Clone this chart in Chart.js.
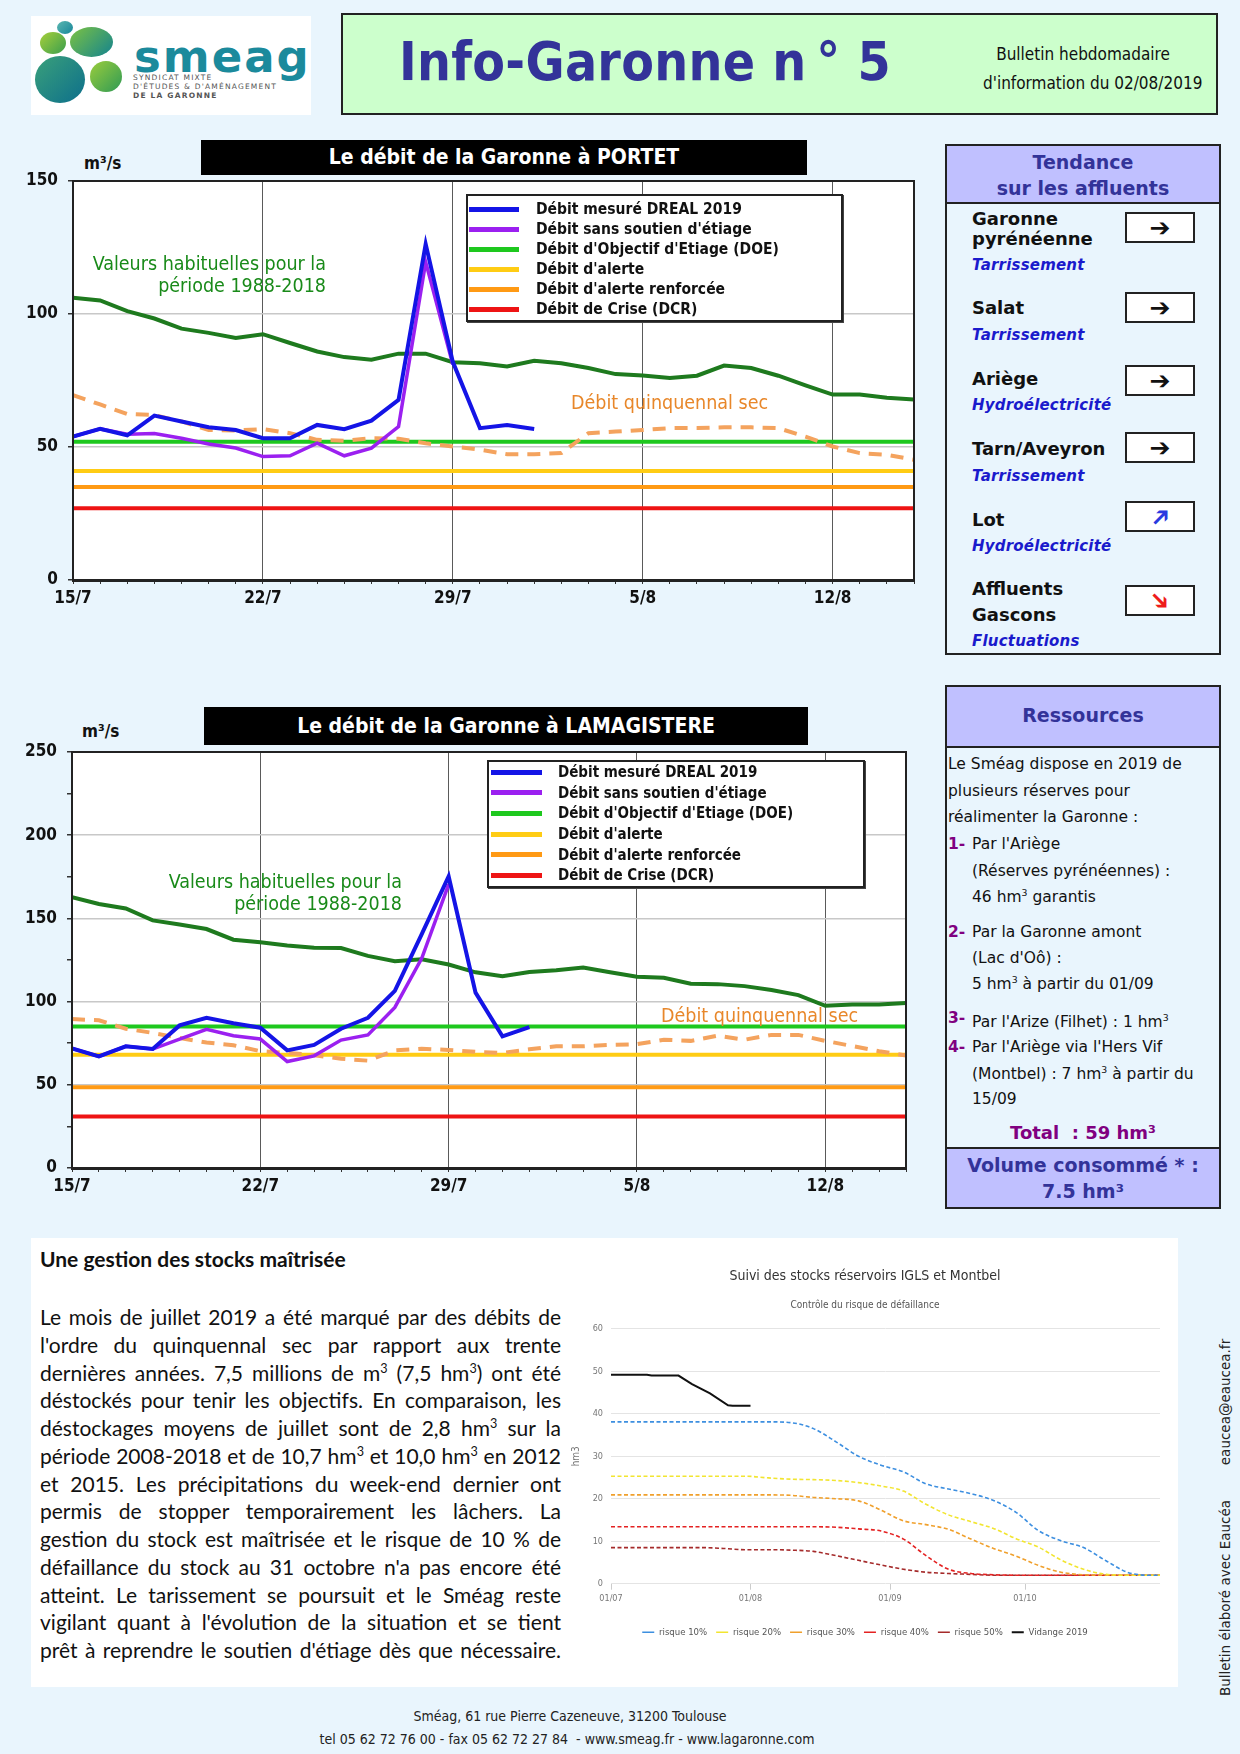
<!DOCTYPE html>
<html lang="fr">
<head>
<meta charset="utf-8">
<title>Info-Garonne n° 5</title>
<script src="https://cdn.jsdelivr.net/npm/chart.js@4.4.1/dist/chart.umd.min.js"></script>
<style>
  body { margin: 0; width: 1240px; height: 1754px; background: #e9f5fd; position: relative; overflow: hidden;
         font-family: 'DejaVu Sans', sans-serif; color: #111; }
  .a { position: absolute; white-space: nowrap; }
  .cond { font-family: 'DejaVu Sans Condensed', 'Liberation Sans Narrow', 'DejaVu Sans', sans-serif; }
  canvas { position: absolute; }

  /* header */
  #logo { left: 31px; top: 16px; width: 280px; height: 99px; background: #fff; }
  .pebble { position: absolute; border-radius: 50%; }
  #titleBox { left: 341px; top: 13px; width: 873px; height: 98px; background: #ccffcc; border: 2px solid #222; }

  /* chart headers */
  .blackTitle { position: absolute; background: #000; color: #fff; font-weight: bold; font-size: 21px; text-align: center; }
  .unit { font-weight: bold; font-size: 17px; }
  .habit { color: #198a19; font-size: 19.5px; text-align: right; line-height: 22px; }
  .quinq { color: #e8872a; font-size: 19.5px; }
  .legend { position: absolute; background: #fff; border: 2px solid #222; box-shadow: 1px 1px 0 #444; box-sizing: border-box; }
  .lg-row { display: flex; align-items: center; font-weight: bold; white-space: nowrap; }
  .lg-line { display: inline-block; height: 5px; }

  /* side panels */
  .panel { position: absolute; border: 2px solid #222; box-sizing: border-box; }
  .phead { background: #c0c0ff; color: #333399; font-weight: bold; text-align: center; }
  .trib { font-weight: bold; font-size: 18px; line-height: 24px; }
  .state { color: #1a1acc; font-weight: bold; font-style: italic; font-size: 15px; line-height: 22px; letter-spacing: 0.2px; }
  .arrow { position: absolute; left: 1125px; width: 70px; height: 31px; background: #fff; border: 2px solid #222;
           box-sizing: border-box; text-align: center; font-size: 25px; line-height: 27px; }
  .arrow span { display: inline-block; }
  .res { font-size: 15.5px; line-height: 26px; }
  .num { color: #800080; font-weight: bold; font-size: 15.5px; line-height: 26px; }
  .res sup, .body sup { font-size: 60%; line-height: 0; }

  /* bottom text */
  #whiteBox { left: 31px; top: 1238px; width: 1147px; height: 449px; background: #fff; }
  .body { position: absolute; left: 40px; width: 521px; font-family: Lato, 'DejaVu Sans', sans-serif; font-size: 21px;
          height: 27.75px; line-height: 27.75px; text-align: justify; text-align-last: justify; white-space: nowrap; }
  .foot { font-size: 14px; color: #222; }
  .vert { font-size: 13.5px; color: #222; transform: rotate(-90deg); transform-origin: center center; }
</style>
</head>
<body>

<!-- ===== header ===== -->
<div id="logo" class="a">
  <div class="pebble" style="left:26px;top:5px;width:16px;height:13px;background:linear-gradient(135deg,#5bb7b0,#17869a);"></div>
  <div class="pebble" style="left:9px;top:16px;width:26px;height:22px;background:linear-gradient(135deg,#a6cf3a,#3a9e4e);"></div>
  <div class="pebble" style="left:39px;top:11px;width:43px;height:30px;background:linear-gradient(135deg,#7cc242,#13838f);"></div>
  <div class="pebble" style="left:4px;top:40px;width:50px;height:47px;background:linear-gradient(135deg,#3aa07a,#0d6f8c);"></div>
  <div class="pebble" style="left:59px;top:45px;width:32px;height:31px;background:linear-gradient(135deg,#9bcd3c,#2f9a55);"></div>
  <div class="a" style="left:103px;top:14px;font-size:45px;font-weight:bold;color:#1b8a9c;letter-spacing:2px;">smeag</div>
  <div class="a" style="left:102px;top:57px;font-size:7.5px;color:#555;letter-spacing:1.2px;line-height:9px;">SYNDICAT MIXTE<br>D'ÉTUDES &amp; D'AMÉNAGEMENT<br><b>DE LA GARONNE</b></div>
</div>

<div id="titleBox" class="a">
  <div class="a cond" style="left:56px;top:16px;font-size:53px;font-weight:bold;color:#333399;letter-spacing:0.3px;">Info-Garonne n&thinsp;°&nbsp;5</div>
  <div class="a cond" style="left:640px;top:25px;width:200px;text-align:center;font-size:17px;line-height:29px;">Bulletin hebdomadaire<br>d'information du 02/08/2019</div>
</div>

<!-- ===== PORTET ===== -->
<div class="blackTitle cond" style="left:201px;top:140px;width:606px;height:35px;line-height:35px;">Le débit de la Garonne à PORTET</div>
<div class="a unit cond" style="left:84px;top:153px;">m³/s</div>
<canvas id="portet" width="940" height="500" style="left:0;top:130px;"></canvas>
<div class="a habit cond" style="left:40px;top:253px;width:286px;">Valeurs habituelles pour la<br>période 1988-2018</div>
<div class="a quinq cond" style="left:571px;top:391px;">Débit quinquennal sec</div>
<div id="lg1" class="legend cond" style="left:466px;top:194px;width:377px;height:128px;padding-top:3px;font-size:15.5px;"></div>

<!-- ===== LAMAGISTERE ===== -->
<div class="blackTitle cond" style="left:204px;top:707px;width:604px;height:38px;line-height:38px;">Le débit de la Garonne à LAMAGISTERE</div>
<div class="a unit cond" style="left:82px;top:721px;">m³/s</div>
<canvas id="lama" width="940" height="540" style="left:0;top:680px;"></canvas>
<div class="a habit cond" style="left:110px;top:871px;width:292px;">Valeurs habituelles pour la<br>période 1988-2018</div>
<div class="a quinq cond" style="left:661px;top:1004px;">Débit quinquennal sec</div>
<div id="lg2" class="legend cond" style="left:487px;top:760px;width:378px;height:128px;padding-top:0px;font-size:15px;"></div>

<!-- ===== Tendance ===== -->
<div class="panel" style="left:945px;top:144px;width:276px;height:511px;">
  <div class="phead" style="height:58px;border-bottom:2px solid #222;font-size:19px;line-height:26px;padding-top:3px;box-sizing:border-box;">Tendance<br>sur les affluents</div>
</div>
<div class="a trib" style="left:972px;top:207px;">Garonne</div>
<div class="a trib" style="left:972px;top:227px;">pyrénéenne</div>
<div class="a state" style="left:972px;top:254px;">Tarrissement</div>
<div class="arrow" style="top:212px;"><span>➔</span></div>

<div class="a trib" style="left:972px;top:296px;">Salat</div>
<div class="a state" style="left:972px;top:324px;">Tarrissement</div>
<div class="arrow" style="top:292px;"><span>➔</span></div>

<div class="a trib" style="left:972px;top:367px;">Ariège</div>
<div class="a state" style="left:972px;top:394px;">Hydroélectricité</div>
<div class="arrow" style="top:365px;"><span>➔</span></div>

<div class="a trib" style="left:972px;top:437px;">Tarn/Aveyron</div>
<div class="a state" style="left:972px;top:465px;">Tarrissement</div>
<div class="arrow" style="top:432px;"><span>➔</span></div>

<div class="a trib" style="left:972px;top:508px;">Lot</div>
<div class="a state" style="left:972px;top:535px;">Hydroélectricité</div>
<div class="arrow" style="top:501px;color:#2a3ae0;"><span style="transform:rotate(-45deg);">➔</span></div>

<div class="a trib" style="left:972px;top:577px;">Affluents</div>
<div class="a trib" style="left:972px;top:603px;">Gascons</div>
<div class="a state" style="left:972px;top:630px;">Fluctuations</div>
<div class="arrow" style="top:585px;color:#ee1c1c;"><span style="transform:rotate(45deg);">➔</span></div>

<!-- ===== Ressources ===== -->
<div class="panel" style="left:945px;top:685px;width:276px;height:524px;">
  <div class="phead" style="height:59px;border-bottom:2px solid #222;font-size:19px;line-height:57px;">Ressources</div>
  <div class="phead" style="position:absolute;left:0;right:0;bottom:0;height:60px;border-top:2px solid #222;font-size:19px;line-height:26px;padding-top:3px;box-sizing:border-box;">Volume consommé * :<br>7.5 hm³</div>
</div>
<div class="a res" style="left:948px;top:751px;">Le Sméag dispose en 2019 de</div>
<div class="a res" style="left:948px;top:778px;">plusieurs réserves pour</div>
<div class="a res" style="left:948px;top:804px;">réalimenter la Garonne :</div>
<div class="a num" style="left:948px;top:831px;">1-</div>
<div class="a res" style="left:972px;top:831px;">Par l'Ariège</div>
<div class="a res" style="left:972px;top:858px;">(Réserves pyrénéennes) :</div>
<div class="a res" style="left:972px;top:884px;">46 hm<sup>3</sup> garantis</div>
<div class="a num" style="left:948px;top:919px;">2-</div>
<div class="a res" style="left:972px;top:919px;">Par la Garonne amont</div>
<div class="a res" style="left:972px;top:945px;">(Lac d'Oô) :</div>
<div class="a res" style="left:972px;top:971px;">5 hm<sup>3</sup> à partir du 01/09</div>
<div class="a num" style="left:948px;top:1005px;">3-</div>
<div class="a res" style="left:972px;top:1009px;">Par l'Arize (Filhet) : 1 hm<sup>3</sup></div>
<div class="a num" style="left:948px;top:1034px;">4-</div>
<div class="a res" style="left:972px;top:1034px;">Par l'Ariège via l'Hers Vif</div>
<div class="a res" style="left:972px;top:1061px;">(Montbel) : 7 hm<sup>3</sup> à partir du</div>
<div class="a res" style="left:972px;top:1086px;">15/09</div>
<div class="a" style="left:945px;top:1120px;width:276px;text-align:center;color:#800080;font-weight:bold;font-size:18px;line-height:26px;">Total &nbsp;: 59 hm³</div>

<!-- ===== bottom block ===== -->
<div id="whiteBox" class="a"></div>
<div class="a" style="left:40px;top:1246px;font-family:Lato,'DejaVu Sans',sans-serif;font-weight:bold;font-size:21px;line-height:26px;">Une gestion des stocks maîtrisée</div>
<div class="body" style="top:1303px;">Le mois de juillet 2019 a été marqué par des débits de</div>
<div class="body" style="top:1331px;">l'ordre du quinquennal sec par rapport aux trente</div>
<div class="body" style="top:1359px;">dernières années. 7,5 millions de m<sup>3</sup> (7,5 hm<sup>3</sup>) ont été</div>
<div class="body" style="top:1386px;">déstockés pour tenir les objectifs. En comparaison, les</div>
<div class="body" style="top:1414px;">déstockages moyens de juillet sont de 2,8 hm<sup>3</sup> sur la</div>
<div class="body" style="top:1442px;">période 2008-2018 et de 10,7 hm<sup>3</sup> et 10,0 hm<sup>3</sup> en 2012</div>
<div class="body" style="top:1470px;">et 2015. Les précipitations du week-end dernier ont</div>
<div class="body" style="top:1497px;">permis de stopper temporairement les lâchers. La</div>
<div class="body" style="top:1525px;">gestion du stock est maîtrisée et le risque de 10 % de</div>
<div class="body" style="top:1553px;">défaillance du stock au 31 octobre n'a pas encore été</div>
<div class="body" style="top:1581px;">atteint. Le tarissement se poursuit et le Sméag reste</div>
<div class="body" style="top:1608px;">vigilant quant à l'évolution de la situation et se tient</div>
<div class="body" style="top:1636px;">prêt à reprendre le soutien d'étiage dès que nécessaire.</div>

<canvas id="stocks" width="618" height="449" style="left:560px;top:1238px;"></canvas>

<div class="a vert" style="left:1155px;top:1394px;width:140px;text-align:center;">eaucea@eaucea.fr</div>
<div class="a vert" style="left:1125px;top:1590px;width:200px;text-align:center;">Bulletin élaboré avec Eaucéa</div>

<div class="a foot cond" style="left:0;top:1708px;width:1140px;text-align:center;">Sméag, 61 rue Pierre Cazeneuve, 31200 Toulouse</div>
<div class="a foot cond" style="left:0;top:1731px;width:1134px;text-align:center;">tel 05 62 72 76 00 - fax 05 62 72 27 84 &nbsp;- www.smeag.fr - www.lagaronne.com</div>

<script>
// ---- data: daily values from 15/7 to 15/8 (m3/s) ----
const dateTicks = ['15/7', '22/7', '29/7', '5/8', '12/8'];
const seriesLabels = ['Débit mesuré DREAL 2019', "Débit sans soutien d'étiage", "Débit d'Objectif d'Etiage (DOE)",
                      "Débit d'alerte", "Débit d'alerte renforcée", 'Débit de Crise (DCR)'];

const portetDreal = [53.9, 56.8, 54.4, 61.8, 59.6, 57.4, 56.4, 53.3, 53.3, 58.3, 56.7, 59.9, 67.7, 126.3, 82.0, 57.1, 58.3, 56.8];
const portetSansSoutien = [53.9, 56.8, 54.8, 55.1, 53.3, 51.1, 49.6, 46.4, 46.7, 51.4, 46.7, 49.6, 57.7, 119.5, 81.0];
const portetHabituel = [106.1, 105.1, 101.1, 98.3, 94.5, 92.9, 91.0, 92.4, 89.1, 85.9, 83.8, 82.8, 85.1, 85.1, 81.9, 81.5,
                        80.3, 82.4, 81.5, 79.7, 77.4, 76.9, 75.9, 76.8, 80.6, 79.7, 76.8, 73.2, 69.7, 69.7, 68.5, 67.9];
const portetQuinquennal = [69.5, 66.0, 62.4, 62.0, 59.6, 56.4, 56.2, 56.7, 55.2, 52.7, 52.3, 53.3, 53.1, 51.4, 50.2, 49.0,
                           47.3, 47.3, 47.7, 55.2, 55.8, 56.4, 57.1, 57.1, 57.4, 57.4, 57.1, 53.9, 50.2, 47.7, 47.1, 45.2];
const portetSeuils = [52, 41, 35, 27];   // DOE, alerte, alerte renforcée, crise

const lamaDreal = [71.9, 67.1, 73.1, 71.5, 85.7, 90.3, 87.0, 84.3, 70.7, 74.0, 83.7, 90.3, 106.4, 140.5, 175.2, 105.4, 79.1, 84.7];
const lamaSansSoutien = [71.9, 67.1, 73.1, 71.5, 77.5, 83.3, 79.5, 77.5, 64.0, 67.4, 76.9, 80.0, 96.5, 126.0, 170.5];
const lamaHabituel = [162.8, 158.7, 156.0, 148.8, 146.3, 143.6, 137.2, 135.7, 133.7, 132.4, 132.2, 127.5, 124.2, 125.4, 122.3, 117.6,
                      115.3, 117.8, 118.8, 120.5, 117.6, 114.9, 114.3, 110.7, 110.5, 109.3, 107.0, 103.9, 97.5, 98.3, 98.3, 99.2];
const lamaQuinquennal = [89.5, 88.8, 83.7, 81.2, 78.1, 75.4, 73.8, 70.2, 69.2, 67.8, 65.7, 64.5, 70.7, 71.7, 70.9, 69.8,
                         69.2, 71.3, 73.1, 73.1, 74.0, 74.4, 77.1, 76.4, 79.5, 77.1, 80.0, 80.0, 76.4, 73.3, 70.2, 67.6];
const lamaSeuils = [85, 68, 48.5, 31];

// ---- data: stock IGLS + Montbel (hm3), days after 01/07 ----
const monthDays = [0, 31, 62, 92];
const monthLabels = ['01/07', '01/08', '01/09', '01/10'];
const riskDays = [0, 5, 10, 15, 20, 25, 30, 35, 40, 45, 50, 55, 60, 65, 70, 75, 80, 85, 90, 95, 100, 105, 110, 115, 120, 122];
const risque10 = [38.1, 38.1, 38.1, 38.1, 38.1, 38.1, 38.1, 38.1, 37.9, 36.5, 33.4, 30.0, 27.9, 26.3, 23.5, 22.3, 21.2, 19.6, 16.8, 12.5, 10.1, 8.5, 5.4, 2.6, 2.0, 2.0];
const risque20 = [25.3, 25.3, 25.3, 25.3, 25.3, 25.3, 25.3, 24.9, 24.6, 24.5, 24.3, 23.8, 23.0, 21.8, 18.7, 16.2, 14.6, 13.0, 10.6, 8.6, 5.6, 3.4, 2.2, 2.0, 2.0, 2.0];
const risque30 = [20.9, 20.9, 20.9, 20.9, 20.9, 20.9, 20.9, 20.9, 20.8, 20.3, 20.0, 19.5, 17.3, 14.8, 13.9, 12.8, 10.5, 8.3, 6.5, 4.3, 2.7, 2.1, 2.0, 2.0, 2.0, 2.0];
const risque40 = [13.4, 13.4, 13.4, 13.4, 13.4, 13.4, 13.4, 13.4, 13.4, 13.4, 13.3, 12.9, 12.4, 10.5, 6.6, 3.4, 2.4, 2.1, 2.0, 2.0, 2.0, 2.0, 2.0, 2.0, 2.0, 2.0];
const risque50 = [8.5, 8.5, 8.5, 8.5, 8.5, 8.3, 8.0, 8.0, 7.9, 7.6, 6.6, 5.5, 4.4, 3.4, 2.7, 2.4, 2.2, 2.0, 2.0, 2.0, 2.0, 2.0, 2.0, 2.0, 2.0, 2.0];
const vidangeDays = [0, 8, 9, 15, 18, 22, 26, 27, 31];
const vidange2019 = [49.2, 49.2, 49.0, 49.0, 47.0, 44.8, 42.0, 41.9, 41.9];

// ---- styles ----
const COND = "'DejaVu Sans Condensed', 'Liberation Sans Narrow', 'DejaVu Sans', sans-serif";
const colors = {
    dreal: '#1414e6', sans: '#9b20f0', doe: '#1ec81e', alerte: '#ffcc14', renforcee: '#ff9a14', crise: '#ee1414',
    habituel: '#1e7a1e', quinquennal: '#f4a35e'
};
const lastDay = 31;

// white plot background + dark frame
const plotFrame = {
    id: 'plotFrame',
    beforeDraw(chart) {
        const { ctx, chartArea: a } = chart;
        ctx.save();
        ctx.fillStyle = '#fff';
        ctx.fillRect(a.left, a.top, a.width, a.height);
        ctx.restore();
    },
    afterDraw(chart) {
        const { ctx, chartArea: a } = chart;
        ctx.save();
        ctx.strokeStyle = '#222';
        ctx.lineWidth = 2;
        ctx.strokeRect(a.left, a.top, a.width, a.height);
        ctx.restore();
    }
};

function toXY(values) {
    return values.map((v, i) => ({ x: i, y: v }));
}

function flat(value) {
    return [{ x: 0, y: value }, { x: lastDay, y: value }];
}

/**
 * Build a river flow chart (Portet / Lamagistère)
 */
function riverChart(id, d, yMax, yStep, axisWidth, axisHeight, padTop, padRight) {
    const line = (label, data, color, width, extra) => Object.assign({
        label, data, borderColor: color, backgroundColor: color, borderWidth: width,
        pointRadius: 0, tension: 0, fill: false
    }, extra || {});

    const datasets = [
        line(seriesLabels[0], toXY(d.dreal), colors.dreal, 4),
        line(seriesLabels[1], toXY(d.sans), colors.sans, 3.5),
        line('Débit quinquennal sec', toXY(d.quinq), colors.quinquennal, 4, { borderDash: [13, 9] }),
        line('Valeurs habituelles 1988-2018', toXY(d.habituel), colors.habituel, 4),
        line(seriesLabels[2], flat(d.seuils[0]), colors.doe, 4),
        line(seriesLabels[3], flat(d.seuils[1]), colors.alerte, 4),
        line(seriesLabels[4], flat(d.seuils[2]), colors.renforcee, 4),
        line(seriesLabels[5], flat(d.seuils[3]), colors.crise, 4)
    ];

    new Chart(document.getElementById(id), {
        type: 'line',
        data: { datasets },
        options: {
            responsive: false,
            animation: false,
            devicePixelRatio: 1,
            layout: { padding: { top: padTop, right: padRight, left: 0, bottom: 0 } },
            plugins: { legend: { display: false }, tooltip: { enabled: false } },
            scales: {
                x: {
                    type: 'linear', min: 0, max: lastDay,
                    afterFit: s => { s.height = axisHeight; },
                    ticks: {
                        stepSize: 1, autoSkip: false, maxRotation: 0, padding: 4,
                        color: '#111', font: { family: COND, size: 17, weight: 'bold' },
                        callback: v => (v % 7 === 0 ? dateTicks[v / 7] : '')
                    },
                    grid: {
                        color: c => (c.tick && c.tick.value % 7 === 0 && c.tick.value > 0 ? '#5a5a5a' : 'rgba(0,0,0,0)'),
                        tickColor: '#333', tickLength: 4, lineWidth: 1
                    },
                    border: { color: '#222', width: 3 }
                },
                y: {
                    min: 0, max: yMax,
                    afterFit: s => { s.width = axisWidth; },
                    ticks: {
                        stepSize: yStep, padding: 10, color: '#111',
                        font: { family: COND, size: 17, weight: 'bold' },
                        callback: v => (v % 50 === 0 ? v : '')
                    },
                    grid: {
                        color: c => (c.tick && c.tick.value % 50 === 0 && c.tick.value > 0 && c.tick.value < yMax ? '#c8c8c8' : 'rgba(0,0,0,0)'),
                        tickColor: '#333', tickLength: 5, lineWidth: 1.5
                    },
                    border: { color: '#222', width: 2 }
                }
            }
        },
        plugins: [plotFrame]
    });

    return datasets;
}

function buildLegend(boxId, datasets, rowHeight, lineLeft, lineWidth, gap) {
    const box = document.getElementById(boxId);
    const shown = [0, 1, 4, 5, 6, 7];
    shown.forEach(i => {
        const row = document.createElement('div');
        row.className = 'lg-row';
        row.style.height = rowHeight + 'px';
        const mark = document.createElement('span');
        mark.className = 'lg-line';
        mark.style.background = datasets[i].borderColor;
        mark.style.marginLeft = lineLeft + 'px';
        mark.style.width = lineWidth + 'px';
        mark.style.marginRight = gap + 'px';
        const txt = document.createElement('span');
        txt.textContent = datasets[i].label;
        row.appendChild(mark);
        row.appendChild(txt);
        box.appendChild(row);
    });
}

const ds1 = riverChart('portet', {
    dreal: portetDreal, sans: portetSansSoutien, quinq: portetQuinquennal, habituel: portetHabituel, seuils: portetSeuils
}, 150, 50, 73, 50, 51, 26);
buildLegend('lg1', ds1, 20, 1, 50, 17);

const ds2 = riverChart('lama', {
    dreal: lamaDreal, sans: lamaSansSoutien, quinq: lamaQuinquennal, habituel: lamaHabituel, seuils: lamaSeuils
}, 250, 25, 72, 52, 72, 34);
buildLegend('lg2', ds2, 20.6, 2, 51, 16);

// ---- stock chart ----
function riskLine(label, values, color) {
    return {
        label, data: values.map((v, i) => ({ x: riskDays[i], y: v })),
        borderColor: color, backgroundColor: color, borderWidth: 1.6, borderDash: [4, 2.5],
        pointRadius: 0, tension: 0.4, cubicInterpolationMode: 'monotone'
    };
}

new Chart(document.getElementById('stocks'), {
    type: 'line',
    data: {
        datasets: [
            riskLine('risque 10%', risque10, '#3d8fe0'),
            riskLine('risque 20%', risque20, '#f2e530'),
            riskLine('risque 30%', risque30, '#f0a02c'),
            riskLine('risque 40%', risque40, '#e42222'),
            riskLine('risque 50%', risque50, '#a52a2a'),
            {
                label: 'Vidange 2019', data: vidange2019.map((v, i) => ({ x: vidangeDays[i], y: v })),
                borderColor: '#111', backgroundColor: '#111', borderWidth: 2, pointRadius: 0, tension: 0
            }
        ]
    },
    options: {
        responsive: false,
        animation: false,
        devicePixelRatio: 1,
        layout: { padding: { top: 30, right: 18, left: 10, bottom: 40 } },
        plugins: {
            tooltip: { enabled: false },
            title: {
                display: true, text: 'Suivi des stocks réservoirs IGLS et Montbel', color: '#333',
                font: { family: COND, size: 14, weight: 'normal' }, padding: { top: 0, bottom: 15 }
            },
            subtitle: {
                display: true, text: 'Contrôle du risque de défaillance', color: '#555',
                font: { family: COND, size: 10 }, padding: { top: 0, bottom: 17 }
            },
            legend: {
                position: 'bottom',
                labels: {
                    usePointStyle: true, pointStyle: 'line', pointStyleWidth: 12, boxHeight: 6,
                    color: '#555', font: { family: COND, size: 9.5 }, padding: 9
                }
            }
        },
        scales: {
            x: {
                type: 'linear', min: 0, max: 122,
                afterBuildTicks: s => { s.ticks = monthDays.map(v => ({ value: v })); },
                afterFit: s => { s.height += 10; },
                ticks: {
                    color: '#777', font: { family: COND, size: 9 }, maxRotation: 0, padding: 4,
                    callback: v => monthLabels[monthDays.indexOf(v)]
                },
                grid: { drawOnChartArea: false, color: '#ccc', tickLength: 6 },
                border: { display: false }
            },
            y: {
                min: 0, max: 60,
                afterFit: s => { s.width = 41; },
                title: { display: true, text: 'hm3', color: '#777', font: { family: COND, size: 10 }, padding: 0 },
                ticks: { stepSize: 10, color: '#777', font: { family: COND, size: 9 }, padding: 8 },
                grid: { color: '#e4e4e4', drawTicks: false },
                border: { display: false }
            }
        }
    }
});
</script>
</body>
</html>
